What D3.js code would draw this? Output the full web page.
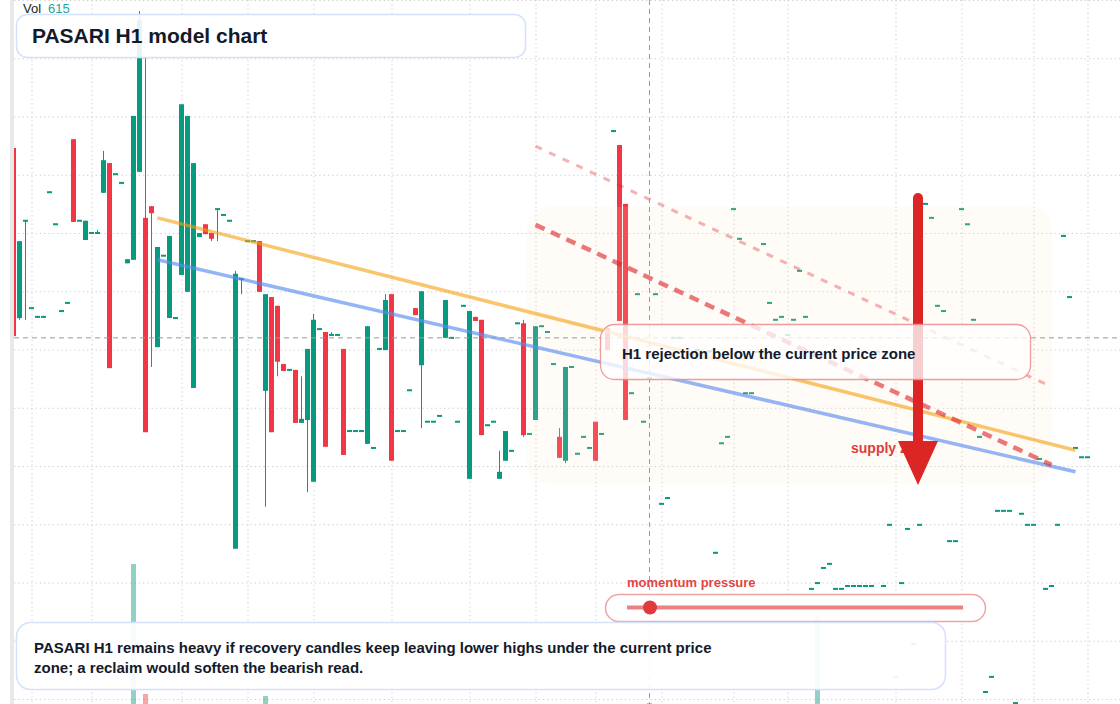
<!DOCTYPE html>
<html>
<head>
<meta charset="utf-8">
<script src="https://cdn.jsdelivr.net/npm/d3@7"></script>
<style>
  html, body { margin: 0; padding: 0; background: #fff; }
  svg { display: block; font-family: "Liberation Sans", Arial, sans-serif; }
</style>
</head>
<body>
<svg id="chart"></svg>
<script>
// H1 candles, index 0..179 (prices)
const openP = [
  194.6,165.4,182.1,167.1,165.6,165.6,187.0,181.5,166.6,168.0,
  196.1,182.1,178.8,180.0,180.0,186.9,192.0,190.1,188.6,174.8,
  175.4,190.5,182.6,184.6,160.4,176.1,165.4,165.4,172.8,169.9,
  153.4,179.3,181.5,180.0,184.1,183.1,182.1,125.8,172.1,178.6,
  178.6,178.6,152.9,169.0,167.5,157.5,156.5,156.5,147.4,147.9,
  137.3,163.5,163.0,162.5,162.5,160.1,146.0,146.0,146.0,143.8,
  143.1,160.1,159.9,169.5,146.0,146.0,153.0,167.1,157.3,147.6,
  147.6,148.6,162.0,162.0,147.6,167.5,137.8,165.6,165.1,147.0,
  147.6,137.8,140.9,142.6,164.5,164.5,145.5,147.9,164.0,163.0,
  157.5,145.0,140.9,157.0,142.1,145.0,143.1,147.6,145.5,163.7,
  197.5,195.1,185.0,152.5,169.5,147.6,155.1,169.5,133.5,134.5,
  162.0,162.0,159.6,159.2,159.9,159.4,159.7,125.1,143.9,145.0,
  184.1,179.0,152.5,152.5,159.6,178.1,168.0,165.1,165.6,162.5,
  165.1,173.5,165.6,118.9,119.9,122.5,123.2,118.9,118.9,119.4,
  119.4,119.4,119.4,119.4,159.6,119.4,129.9,103.8,119.9,129.2,
  109.4,129.9,185.0,182.6,167.5,166.6,127.1,127.1,184.1,181.5,
  165.1,145.0,101.2,103.8,132.3,132.3,132.3,99.3,131.8,129.9,
  129.9,141.2,118.9,119.4,129.9,179.5,169.0,143.1,141.5,141.5
];
const highP = [
  194.6,178.6,182.1,167.1,165.6,165.6,187.0,181.5,166.6,168.0,
  196.1,182.1,182.1,180.0,180.5,194.1,192.0,190.1,188.6,175.5,
  200.1,218.1,210.2,184.6,177.6,176.1,179.5,165.4,202.1,200.1,
  192.0,180.0,181.5,180.0,184.1,183.1,182.1,173.5,172.1,178.6,
  178.6,178.6,169.5,169.0,167.5,157.5,156.5,156.5,155.4,160.1,
  166.1,163.5,163.0,163.0,162.5,160.1,146.0,146.0,146.0,164.0,
  143.1,160.1,169.5,169.5,146.0,146.0,153.0,167.1,170.0,147.6,
  147.6,148.6,168.5,162.0,147.6,167.5,166.6,165.6,165.1,147.0,
  147.6,142.6,146.0,142.6,164.5,165.1,145.5,164.0,164.0,163.0,
  157.5,146.5,157.0,157.0,142.1,145.0,143.1,147.6,145.5,163.7,
  197.5,195.1,185.0,152.5,169.5,147.6,155.1,169.5,133.5,134.5,
  162.0,162.0,159.6,159.2,159.9,159.4,159.7,125.1,143.9,145.0,
  184.1,179.0,152.5,152.5,159.6,178.1,168.0,165.1,165.6,162.5,
  165.1,173.5,165.6,118.9,119.9,122.5,123.2,118.9,118.9,119.4,
  119.4,119.4,119.4,119.4,159.6,119.4,129.9,103.8,119.9,129.2,
  109.4,129.9,185.0,182.6,167.5,166.6,127.1,127.1,184.1,181.5,
  165.1,145.0,101.2,103.8,132.3,132.3,132.3,99.3,131.8,129.9,
  129.9,141.2,118.9,119.4,129.9,179.5,169.0,143.1,141.5,141.5
];
const lowP = [
  162.3,165.1,165.1,167.1,165.6,165.6,187.0,181.5,166.6,168.0,
  181.9,182.1,178.8,180.0,180.0,186.9,156.8,190.1,188.6,174.8,
  175.4,190.5,145.8,157.0,160.4,176.1,165.4,165.4,172.8,169.9,
  153.4,179.3,179.8,178.6,178.6,183.1,182.1,125.8,169.5,178.6,
  178.6,169.9,133.0,145.8,155.4,156.3,156.5,147.4,147.4,135.5,
  137.3,163.5,143.3,162.5,162.5,141.9,146.0,146.0,146.0,143.8,
  143.1,160.1,159.9,140.9,146.0,146.0,153.0,165.9,146.5,147.6,
  147.6,148.6,162.0,162.0,147.6,167.5,137.8,164.9,145.3,147.0,
  147.6,137.8,140.9,142.6,164.5,145.0,145.5,147.9,164.0,163.0,
  157.5,141.4,140.5,157.0,142.1,145.0,143.1,140.9,145.5,159.9,
  197.5,164.9,147.9,152.5,169.5,147.6,155.1,169.5,133.5,134.5,
  162.0,162.0,159.6,159.2,159.9,159.4,159.7,125.1,143.9,145.0,
  184.1,179.0,152.5,152.5,159.6,178.1,168.0,165.1,165.6,162.5,
  165.1,173.5,165.6,118.9,119.9,122.5,123.2,118.9,118.9,119.4,
  119.4,119.4,119.4,119.4,159.6,119.4,129.9,103.8,119.9,129.2,
  109.4,129.9,185.0,182.6,167.5,166.6,127.1,127.1,184.1,181.5,
  165.1,145.0,101.2,103.8,132.3,132.3,132.3,99.3,131.8,129.9,
  129.9,141.2,118.9,119.4,129.9,179.5,169.0,143.1,141.5,141.5
];
const closeP = [
  162.3,178.6,182.1,167.1,165.6,165.6,187.0,181.5,166.6,168.0,
  181.9,182.1,182.1,180.0,180.0,192.5,156.8,190.1,188.6,175.5,
  200.1,216.6,145.8,183.4,177.6,176.1,179.5,165.4,202.1,200.1,
  192.0,180.0,179.8,179.0,184.1,183.1,182.1,173.0,172.1,178.6,
  178.6,169.9,169.5,145.8,157.9,156.3,156.5,147.4,148.1,160.1,
  165.1,163.5,143.3,162.5,162.5,141.9,146.0,146.0,146.0,164.0,
  143.1,160.1,168.5,140.9,146.0,146.0,153.0,165.9,170.0,147.6,
  147.6,148.6,168.5,162.0,147.6,167.5,166.6,164.9,145.3,147.0,
  147.6,139.0,146.0,142.6,164.5,145.3,145.5,164.0,164.0,163.0,
  157.5,141.4,157.0,157.0,142.1,145.0,143.1,140.9,145.5,159.9,
  197.5,164.9,147.9,152.5,169.5,147.6,155.1,169.5,133.5,134.5,
  162.0,162.0,159.6,159.2,159.9,159.4,159.7,125.1,143.9,145.0,
  184.1,179.0,152.5,152.5,159.6,178.1,168.0,165.1,165.6,162.5,
  165.1,173.5,165.6,118.9,119.9,122.5,123.2,118.9,118.9,119.4,
  119.4,119.4,119.4,119.4,159.6,119.4,129.9,103.8,119.9,129.2,
  109.4,129.9,185.0,182.6,167.5,166.6,127.1,127.1,184.1,181.5,
  165.1,145.0,101.2,103.8,132.3,132.3,132.3,99.3,131.8,129.9,
  129.9,141.2,118.9,119.4,129.9,179.5,169.0,143.1,141.5,141.5
];
const volume = [
  0,0,0,0,0,0,0,0,0,0,
  0,0,0,0,0,0,0,0,0,0,
  86000,0,6150,0,0,0,0,0,0,0,
  0,0,0,0,0,0,0,0,0,0,
  0,0,4900,0,0,0,0,0,0,0,
  0,0,0,0,0,0,0,0,0,0,
  0,0,0,0,0,0,0,0,0,0,
  0,0,0,0,0,0,0,0,0,0,
  0,0,0,0,0,0,0,0,0,0,
  0,0,0,0,0,0,0,0,0,0,
  0,0,0,0,0,0,615,0,0,0,
  0,0,0,0,0,0,0,0,0,0,
  0,0,0,0,0,0,0,0,0,0,
  0,0,0,0,54000,0,0,0,0,0,
  0,0,0,0,0,0,0,0,0,0,
  0,0,0,0,0,0,0,0,0,0,
  0,0,0,0,0,0,0,0,0,0,
  0,0,0,0,0,0,0,0,0,0
];

const gridPrices = [100,110,120,130,140,150,160,170,180,190,200,210,220];
const gridCandles = [3,13,28,39,50,63,76,87,97,108,120,129,147,158,170,179];

const orangeTrend = [{i: 24, p: 182.6}, {i: 177, p: 142.7}];
const blueTrend = [{i: 24, p: 175.4}, {i: 177, p: 139.0}];
const upperChannel = [{i: 87, p: 194.9}, {i: 173, p: 153.6}];
const lowerChannel = [{i: 87, p: 181.4}, {i: 173, p: 140.2}];
const supplyZone = {i0: 85.6, i1: 173.1, top: 184.5, bottom: 136.9};
const crosshair = {i: 106, p: 162.0};

const chartSize = {width: 1120, height: 704};
const plot = {left: 14, right: 1120, top: 0, bottom: 699};
const up = "#089981", down = "#f23645";

const x = d3.scaleLinear().domain([0, 179]).range([13.5, 1087.5]);
const y = d3.scaleLinear().domain([100, 220]).range([plot.bottom, plot.top]);
const v = d3.scaleLinear().domain([0, 86000]).range([704, 564]);

const candles = d3.range(openP.length).map(i => ({
  i, o: openP[i], h: highP[i], l: lowP[i], c: closeP[i], vol: volume[i]
}));

const svg = d3.select("#chart")
  .attr("width", chartSize.width)
  .attr("height", chartSize.height);

svg.append("defs").append("clipPath").attr("id", "plot-clip")
  .append("rect")
  .attr("x", plot.left).attr("y", 0)
  .attr("width", plot.right - plot.left).attr("height", chartSize.height);

const g = svg.append("g").attr("clip-path", "url(#plot-clip)");

// dotted grid
g.append("g")
  .attr("class", "grid-y")
  .attr("transform", `translate(${plot.left},0)`)
  .call(d3.axisLeft(y).tickValues(gridPrices).tickSize(-(plot.right - plot.left)).tickFormat(""));
g.append("g")
  .attr("class", "grid-x")
  .call(d3.axisTop(x).tickValues(gridCandles).tickSize(-chartSize.height).tickFormat(""));
g.selectAll(".grid-y .domain, .grid-x .domain").remove();
g.selectAll(".grid-y line, .grid-x line")
  .attr("stroke", "#cdcdcd")
  .attr("stroke-width", 1)
  .attr("stroke-dasharray", "1.3,3");

// volume
g.append("g").selectAll("rect")
  .data(candles.filter(d => d.vol > 0))
  .enter().append("rect")
  .attr("x", d => x(d.i) - 2.5)
  .attr("width", 5)
  .attr("y", d => v(d.vol))
  .attr("height", d => v(0) - v(d.vol))
  .attr("fill", d => d.c >= d.o ? up : down)
  .attr("opacity", 0.45);

// candles
const cg = g.append("g");
cg.selectAll("line")
  .data(candles.filter(d => d.h > d.l))
  .enter().append("line")
  .attr("x1", d => x(d.i)).attr("x2", d => x(d.i))
  .attr("y1", d => y(d.h)).attr("y2", d => y(d.l))
  .attr("stroke", d => d.c >= d.o ? up : down)
  .attr("stroke-width", 1);
cg.selectAll("rect")
  .data(candles)
  .enter().append("rect")
  .attr("x", d => x(d.i) - 2.5)
  .attr("width", 5)
  .attr("y", d => {
    const top = y(Math.max(d.o, d.c)), bot = y(Math.min(d.o, d.c));
    return bot - top < 2 ? (top + bot) / 2 - 1 : top;
  })
  .attr("height", d => Math.max(y(Math.min(d.o, d.c)) - y(Math.max(d.o, d.c)), 2))
  .attr("fill", d => d.c >= d.o ? up : down);

// supply zone
g.append("rect")
  .attr("x", x(supplyZone.i0))
  .attr("y", y(supplyZone.top))
  .attr("width", x(supplyZone.i1) - x(supplyZone.i0))
  .attr("height", y(supplyZone.bottom) - y(supplyZone.top))
  .attr("rx", 22)
  .attr("fill", "rgb(255,226,200)")
  .attr("opacity", 0.15);

// trend lines
const line = d3.line().x(d => x(d.i)).y(d => y(d.p));
g.append("path").datum(orangeTrend).attr("d", line)
  .attr("stroke", "#f59e0b").attr("stroke-opacity", 0.6).attr("stroke-width", 3.5).attr("fill", "none");
g.append("path").datum(blueTrend).attr("d", line)
  .attr("stroke", "#5b8def").attr("stroke-opacity", 0.65).attr("stroke-width", 3.5).attr("fill", "none");
g.append("path").datum(upperChannel).attr("d", line)
  .attr("stroke", "#dc2626").attr("stroke-opacity", 0.35).attr("stroke-width", 3)
  .attr("stroke-dasharray", "7,8").attr("fill", "none");
g.append("path").datum(lowerChannel).attr("d", line)
  .attr("stroke", "#dc2626").attr("stroke-opacity", 0.62).attr("stroke-width", 4.5)
  .attr("stroke-dasharray", "10,7").attr("fill", "none");

// crosshair
g.append("line")
  .attr("x1", x(crosshair.i)).attr("x2", x(crosshair.i))
  .attr("y1", 0).attr("y2", chartSize.height)
  .attr("stroke", "#9a9a9a").attr("stroke-dasharray", "5,4");
g.append("line")
  .attr("x1", plot.left).attr("x2", plot.right)
  .attr("y1", y(crosshair.p)).attr("y2", y(crosshair.p))
  .attr("stroke", "#9a9a9a").attr("stroke-dasharray", "5,4");

// left strip
svg.append("rect").attr("x", 10).attr("y", 0).attr("width", 4).attr("height", chartSize.height)
  .attr("fill", "#e9e9e9");

// legend
const vol = svg.append("text").attr("x", 23).attr("y", 13).attr("font-size", 13);
vol.append("tspan").attr("fill", "#222").text("Vol");
vol.append("tspan").attr("dx", 7).attr("fill", "#26a69a").text(volume[crosshair.i]);

// title card
svg.append("rect")
  .attr("x", 16.5).attr("y", 14.5).attr("width", 509).attr("height", 43).attr("rx", 11)
  .attr("fill", "#fff").attr("fill-opacity", 0.9)
  .attr("stroke", "#d3e2fb").attr("stroke-width", 1.5);
svg.append("text")
  .attr("x", 32).attr("y", 43)
  .attr("font-size", 21).attr("font-weight", "bold").attr("fill", "#131a2a")
  .text("PASARI H1 model chart");

// supply zone arrow (under the callout card)
svg.append("text")
  .attr("x", 851).attr("y", 453)
  .attr("font-size", 14).attr("font-weight", "bold").attr("fill", "#e03c3c")
  .text("supply zone");
svg.append("line")
  .attr("x1", 918).attr("x2", 918).attr("y1", 198).attr("y2", 445)
  .attr("stroke", "#dc2626").attr("stroke-width", 10).attr("stroke-linecap", "round");
svg.append("path")
  .attr("d", "M898,441L938,441L918,485Z")
  .attr("fill", "#dc2626");

// rejection callout
svg.append("rect")
  .attr("x", 600.5).attr("y", 324.5).attr("width", 430).attr("height", 55).attr("rx", 14)
  .attr("fill", "#fff").attr("fill-opacity", 0.78)
  .attr("stroke", "#e98c8c").attr("stroke-opacity", 0.85).attr("stroke-width", 1.3);
svg.append("text")
  .attr("x", 622).attr("y", 359)
  .attr("font-size", 15).attr("font-weight", "bold").attr("fill", "#131a2a")
  .text("H1 rejection below the current price zone");

// momentum gauge
svg.append("text")
  .attr("x", 627).attr("y", 587)
  .attr("font-size", 13).attr("font-weight", "bold").attr("fill", "#e04545")
  .text("momentum pressure");
svg.append("rect")
  .attr("x", 605.5).attr("y", 594.5).attr("width", 380).attr("height", 27).attr("rx", 13.5)
  .attr("fill", "#fff").attr("fill-opacity", 0.92)
  .attr("stroke", "#f0a3a3").attr("stroke-width", 1.5);
svg.append("line")
  .attr("x1", 627).attr("x2", 963).attr("y1", 607.5).attr("y2", 607.5)
  .attr("stroke", "#ec8181").attr("stroke-width", 4);
svg.append("circle")
  .attr("cx", 650).attr("cy", 607.5).attr("r", 7)
  .attr("fill", "#e03a3a");

// note card
svg.append("rect")
  .attr("x", 16.5).attr("y", 622.5).attr("width", 929).attr("height", 67).attr("rx", 14)
  .attr("fill", "#fff").attr("fill-opacity", 0.92)
  .attr("stroke", "#d3e2fb").attr("stroke-width", 1.5);
const note = svg.append("text")
  .attr("font-size", 15).attr("font-weight", "bold").attr("fill", "#131a2a");
note.append("tspan").attr("x", 34).attr("y", 653)
  .text("PASARI H1 remains heavy if recovery candles keep leaving lower highs under the current price");
note.append("tspan").attr("x", 34).attr("y", 673)
  .text("zone; a reclaim would soften the bearish read.");
</script>
</body>
</html>
